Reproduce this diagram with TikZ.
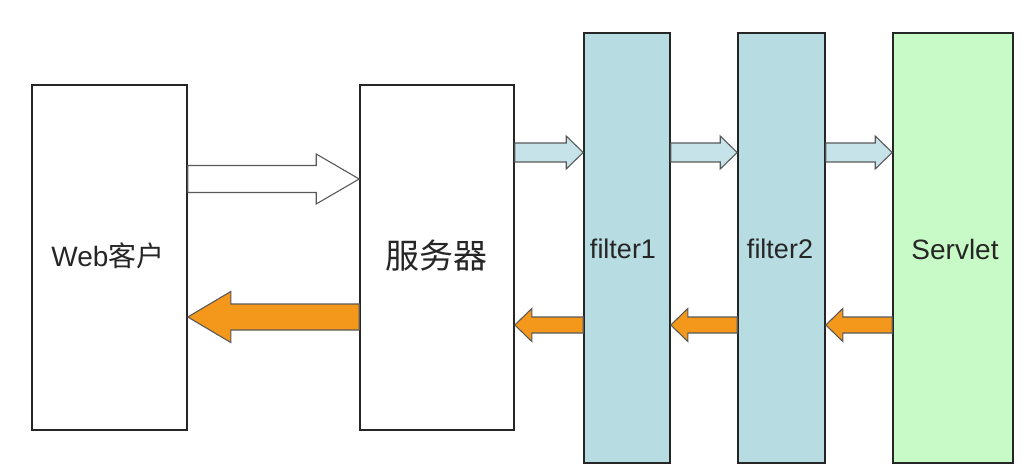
\documentclass[tikz,border=0pt]{standalone}
\usepackage{fontspec}
\setmainfont{Liberation Sans}
\newfontfamily\cjk{Noto Sans CJK SC}
\usetikzlibrary{calc}
\definecolor{filterblue}{RGB}{183,221,227}
\definecolor{servletgreen}{RGB}{200,250,200}
\definecolor{floworange}{RGB}{244,152,28}
\definecolor{flowblue}{RGB}{198,227,233}

% block arrow: style, from, to, half body, half head, head length
\newcommand\flowarrow[6]{%
  \draw[#1] let \p1=(#2), \p2=(#3), \n1={sign(\x2-\x1)} in
    (\x1,{\y1+#4}) -- ({\x2-\n1*#6},{\y1+#4}) -- ({\x2-\n1*#6},{\y1+#5})
    -- (\x2,\y1) -- ({\x2-\n1*#6},{\y1-#5}) -- ({\x2-\n1*#6},{\y1-#4})
    -- (\x1,{\y1-#4}) -- cycle;}

\begin{document}
\begin{tikzpicture}[
    x=1pt, y=-1pt,
    box/.style={draw=black!85, line width=1.6pt, inner sep=0pt,
                minimum width=#1},
    client/.style={box=#1, fill=white, minimum height=345pt},
    filterbox/.style={box=#1, fill=filterblue, minimum height=430pt},
    lbl/.style={font=\fontsize{27}{31}\selectfont, text=black!85},
    reqarrow/.style={draw=black!65, line width=1.1pt, fill=flowblue,
                     line join=miter},
    resarrow/.style={draw=black!65, line width=1.1pt, fill=floworange,
                     line join=miter}
]
\useasboundingbox (0,0) rectangle (1036,473);

% ---------- boxes ----------
\node[client=155pt] (web) at (109.5,257.5) {};
\node[client=154pt] (server) at (437,257.5) {};
\node[filterbox=86pt] (filter1) at (627,248) {};
\node[filterbox=87pt] (filter2) at (781.5,248) {};
\node[filterbox=120pt, fill=servletgreen] (servlet) at (953,248) {};

% ---------- labels ----------
\node[lbl, font=\fontsize{28}{32}\selectfont] (webtxt) at (108,256)
     {Web{\cjk 客户}};
\node[lbl, font=\fontsize{34}{38}\selectfont] (servertxt) at (436,256)
     {\cjk 服务器};
\node[lbl] (f1txt) at (623,249) {filter1};
\node[lbl] (f2txt) at (780,249) {filter2};
\node[lbl, font=\fontsize{28}{32}\selectfont] (servlettxt) at (955,249)
     {Servlet};

% ---------- rows for the arrows ----------
\coordinate (bigreq) at (0,179);
\coordinate (bigres) at (0,317);
\coordinate (req) at (0,152.5);
\coordinate (res) at (0,325);

% ---------- client <-> server ----------
\flowarrow{reqarrow, fill=white}{web.east |- bigreq}{server.west |- bigreq}
          {13.5pt}{25pt}{43pt}
\flowarrow{resarrow}{server.west |- bigres}{web.east |- bigres}
          {13pt}{25.5pt}{43pt}

% ---------- request / response through the chain ----------
\foreach \a/\b in {server/filter1, filter1/filter2, filter2/servlet} {
  \flowarrow{reqarrow}{\a.east |- req}{\b.west |- req}{9.5pt}{16.5pt}{17pt}
  \flowarrow{resarrow}{\b.west |- res}{\a.east |- res}{8pt}{16.5pt}{17pt}
}

\end{tikzpicture}
\end{document}
